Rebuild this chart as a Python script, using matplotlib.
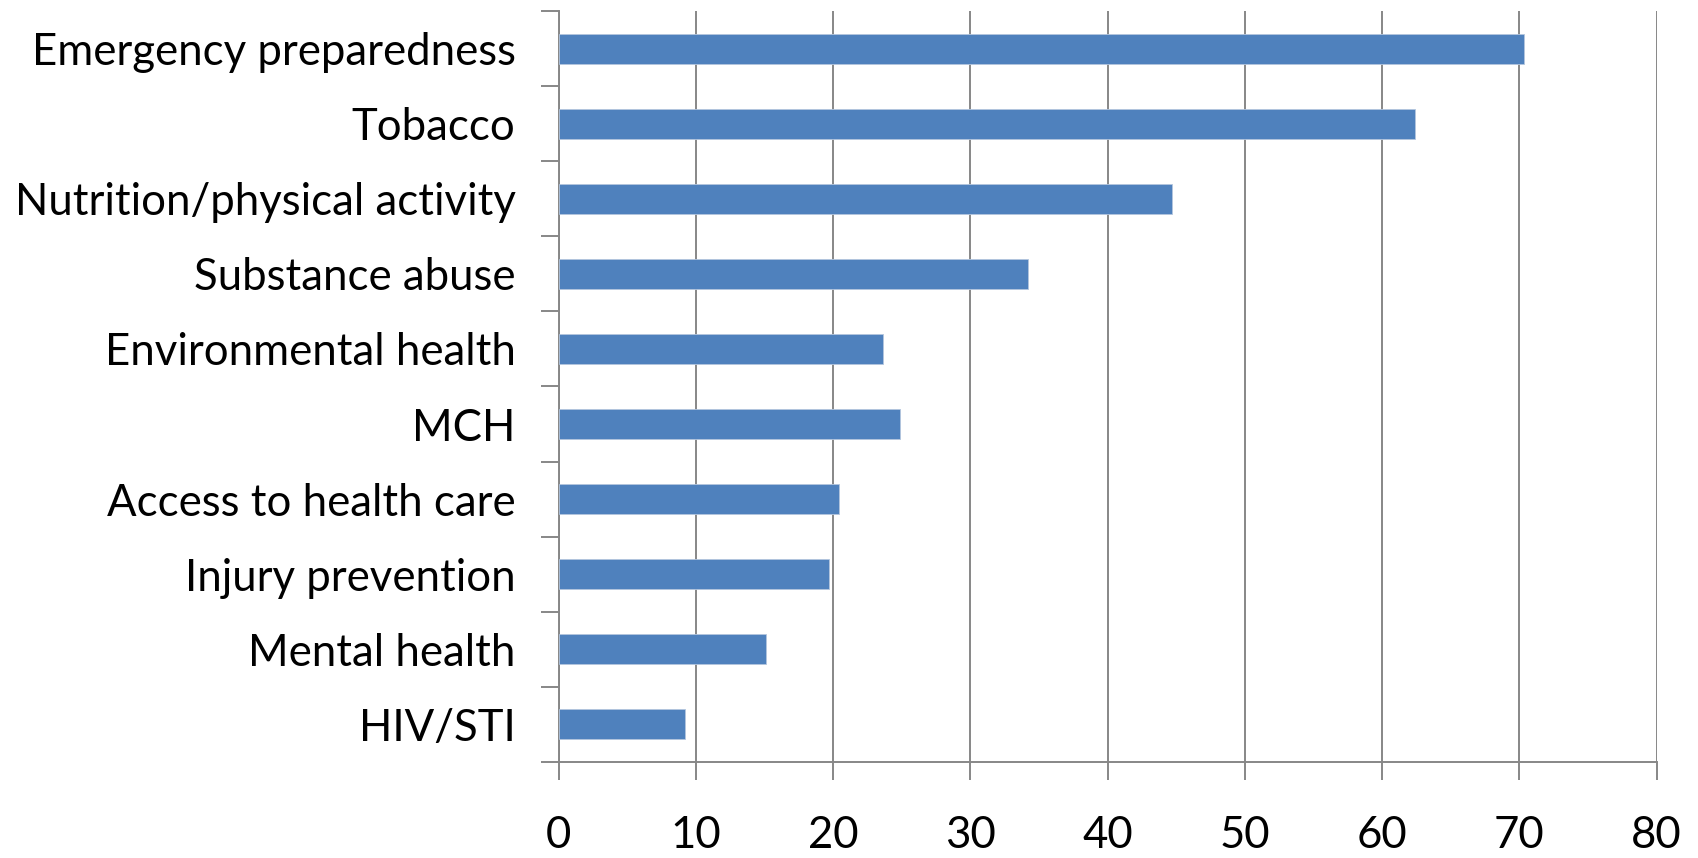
"""Horizontal bar chart of priority areas (Excel-style)."""
import matplotlib
matplotlib.use("Agg")
import matplotlib.pyplot as plt
import numpy as np
from matplotlib.ticker import FixedLocator

matplotlib.rcParams["font.family"] = ["Lato", "DejaVu Sans"]

categories = [
    "Emergency preparedness",
    "Tobacco",
    "Nutrition/physical activity",
    "Substance abuse",
    "Environmental health",
    "MCH",
    "Access to health care",
    "Injury prevention",
    "Mental health",
    "HIV/STI",
]
values = [70.3, 62.4, 44.7, 34.2, 23.6, 24.9, 20.4, 19.7, 15.1, 9.2]
x_ticks = [0, 10, 20, 30, 40, 50, 60, 70, 80]

BAR_COLOR = "#4F81BD"
GRID_COLOR = "#878787"
FONT_SIZE = 31.5

fig = plt.figure(figsize=(16.98, 8.58), dpi=100)
ax = fig.add_axes([0.329, 0.1119, 0.9757 - 0.329, 0.9872 - 0.1119])

pos = np.arange(len(categories))
ax.barh(pos, values, height=0.4, color=BAR_COLOR, edgecolor="#B4C6DE",
        linewidth=0.6, zorder=3)

ax.set_xlim(0, 80)
ax.set_ylim(len(categories) - 0.5, -0.5)

ax.set_xticks(x_ticks)
ax.set_xticklabels([str(t) for t in x_ticks], fontsize=FONT_SIZE)
ax.grid(axis="x", color=GRID_COLOR, linewidth=1.4, zorder=0)

ax.set_yticks(pos)
ax.set_yticklabels(categories, fontsize=FONT_SIZE)
ax.yaxis.set_minor_locator(FixedLocator(np.arange(len(categories) + 1) - 0.5))

ax.tick_params(axis="y", which="major", length=0, pad=31)
ax.tick_params(axis="y", which="minor", length=13, width=1.4, color=GRID_COLOR)
ax.tick_params(axis="x", which="major", length=13, width=1.4, color=GRID_COLOR, pad=25)

for side in ("top", "right"):
    ax.spines[side].set_visible(False)
for side in ("left", "bottom"):
    ax.spines[side].set_color(GRID_COLOR)
    ax.spines[side].set_linewidth(1.4)

fig.savefig("out.png", dpi=100, facecolor="white")
